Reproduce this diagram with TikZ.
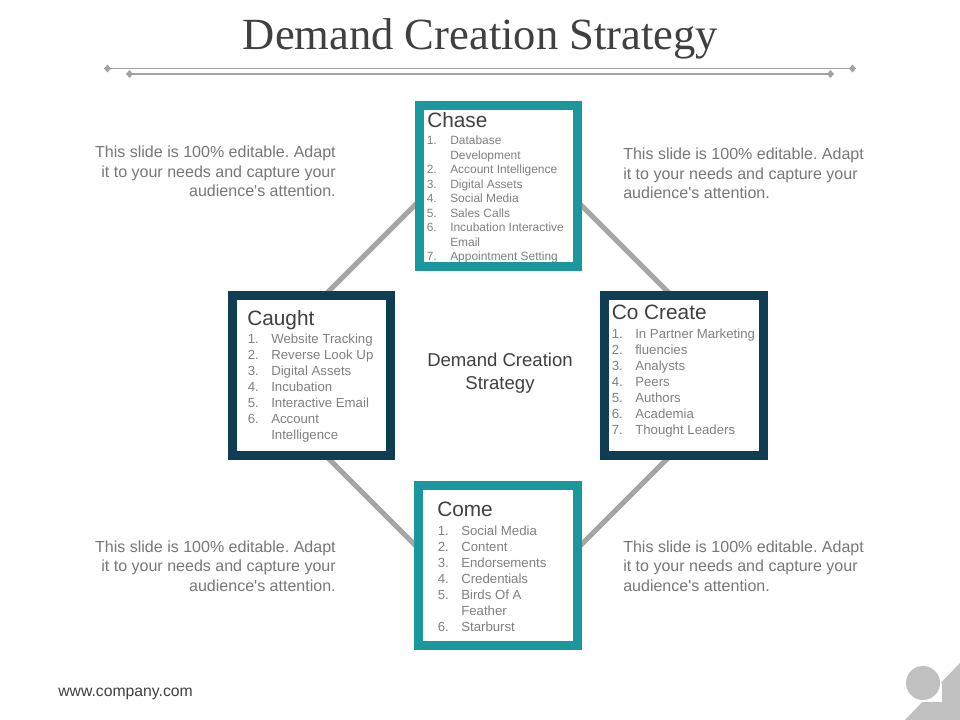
\documentclass[tikz,border=0pt]{standalone}
\usepackage{fontspec}
\setmainfont{Liberation Sans}
\newfontfamily\titlefont{Liberation Serif}
\usepackage{xcolor}
\usetikzlibrary{positioning}

\definecolor{tealc}{HTML}{1A989E}
\definecolor{navyc}{HTML}{0F3D52}
\definecolor{linkgray}{HTML}{A6A6A6}
\definecolor{rulegray}{HTML}{A3A3A3}
\definecolor{headgray}{HTML}{404040}
\definecolor{itemgray}{HTML}{808080}
\definecolor{bodygray}{HTML}{777777}
\definecolor{cornergray}{HTML}{C0C0C0}

% numbered list lines
\newcommand{\itm}[2]{\makebox[16.7pt][l]{#1.}#2}
\newcommand{\itmc}[1]{\hspace*{16.7pt}#1}
\frenchspacing

\begin{document}
\begin{tikzpicture}[x=0.025cm,y=-0.025cm,
  panel/.style={draw=#1, line width=6.4pt, fill=white, minimum width=3.95cm,
    minimum height=4.0cm, inner sep=0pt, outer sep=0pt},
  head/.style={anchor=base west, inner sep=0pt, text=headgray,
    font=\fontsize{14.8}{17}\selectfont},
  items/.style={anchor=base west, inner sep=0pt, align=left, text=itemgray,
    font=\fontsize{9.4}{11.4}\selectfont},
  blurb/.style={inner sep=0pt, align=#1, text=bodygray,
    font=\fontsize{11.4}{13.7}\selectfont}]

\fill[white] (0,0) rectangle (960,720);
\useasboundingbox (0,0) rectangle (960,720);

% =========================================================
% Title and rules
% =========================================================
\node[anchor=base, inner sep=0pt, text=headgray,
  font=\titlefont\fontsize{31.7}{38}\selectfont] (title) at (480.5,49.5)
  {Demand Creation Strategy};

\coordinate (ruleAl) at (107.5,68.5);
\coordinate (ruleAr) at (852.5,68.5);
\coordinate (ruleBl) at (129.5,74);
\coordinate (ruleBr) at (830.5,74);
\draw[rulegray, line width=1.1pt] (ruleAl) -- (ruleAr);
\draw[rulegray, line width=1.1pt] (ruleBl) -- (ruleBr);
\foreach \p in {ruleAl,ruleAr,ruleBl,ruleBr} {
  \fill[rulegray] (\p) +(0,-4) -- +(3.5,0) -- +(0,4) -- +(-3.5,0) -- cycle;
}

% =========================================================
% Diamond links
% =========================================================
\coordinate (dtop) at (498,122);
\coordinate (dright) at (751,375);
\coordinate (dbottom) at (498,628);
\coordinate (dleft) at (245,375);
\draw[linkgray, line width=3.6pt] (dtop) -- (dright) -- (dbottom) -- (dleft) -- cycle;

% =========================================================
% Boxes (list nodes sit on the baseline of their last line)
% =========================================================
\node[panel=tealc, minimum height=4.025cm] (chase) at (498.5,186) {};
\node[panel=navyc] (caught) at (311.5,375.5) {};
\node[panel=navyc] (cocreate) at (684,375.5) {};
\node[panel=tealc] (come) at (498,565.5) {};

% Chase
\node[head] (chaseT) at (427,128) {Chase};
\node[items, font=\fontsize{8.5}{10.3}\selectfont] (chaseL) at (426.5,260.8)
{\itm{1}{Database}\\ \itmc{Development}\\ \itm{2}{Account Intelligence}\\
 \itm{3}{Digital Assets}\\ \itm{4}{Social Media}\\ \itm{5}{Sales Calls}\\
 \itm{6}{Incubation Interactive}\\ \itmc{Email}\\ \itm{7}{Appointment Setting}};
\draw[tealc, line width=6.4pt] (chase.south west) -- (chase.south east);

% Caught
\node[head] (caughtT) at (247,325.5) {Caught};
\node[items] (caughtL) at (247.5,439.5)
{\itm{1}{Website Tracking}\\ \itm{2}{Reverse Look Up}\\ \itm{3}{Digital Assets}\\
 \itm{4}{Incubation}\\ \itm{5}{Interactive Email}\\ \itm{6}{Account}\\
 \itmc{Intelligence}};

% Co Create
\node[head] (cocreateT) at (611.5,320) {Co Create};
\node[items] (cocreateL) at (611.5,434.2)
{\itm{1}{In Partner Marketing}\\ \itm{2}{fluencies}\\ \itm{3}{Analysts}\\
 \itm{4}{Peers}\\ \itm{5}{Authors}\\ \itm{6}{Academia}\\ \itm{7}{Thought Leaders}};

% Come
\node[head] (comeT) at (437,516.7) {Come};
\node[items] (comeL) at (437.5,631.9)
{\itm{1}{Social Media}\\ \itm{2}{Content}\\ \itm{3}{Endorsements}\\
 \itm{4}{Credentials}\\ \itm{5}{Birds Of A}\\ \itmc{Feather}\\ \itm{6}{Starburst}};

% Centre label
\node[anchor=base, inner sep=0pt, align=center, text=headgray,
  font=\fontsize{13.2}{17}\selectfont] (core) at (500,390)
  {Demand Creation\\Strategy};

% =========================================================
% Side texts
% =========================================================
\node[blurb=right, anchor=base east] (noteTL) at (336,196.5)
{This slide is 100\% editable. Adapt\\it to your needs and capture your\\audience\textquotesingle s attention.};
\node[blurb=left, anchor=base west] (noteTR) at (623,198.5)
{This slide is 100\% editable. Adapt\\it to your needs and capture your\\audience\textquotesingle s attention.};
\node[blurb=right, anchor=base east] (noteBL) at (336,591)
{This slide is 100\% editable. Adapt\\it to your needs and capture your\\audience\textquotesingle s attention.};
\node[blurb=left, anchor=base west] (noteBR) at (623,591)
{This slide is 100\% editable. Adapt\\it to your needs and capture your\\audience\textquotesingle s attention.};

% Footer
\node[anchor=base west, inner sep=0pt, text=headgray,
  font=\fontsize{11.2}{13}\selectfont] (web) at (58,696) {www.company.com};

% Corner mark
\fill[cornergray] (905,720) -- (960,720) -- (960,663) -- cycle;
\fill[white] (923,683) rectangle (942,702);
\fill[cornergray] (923,683) circle (0.425cm);

\end{tikzpicture}
\end{document}
